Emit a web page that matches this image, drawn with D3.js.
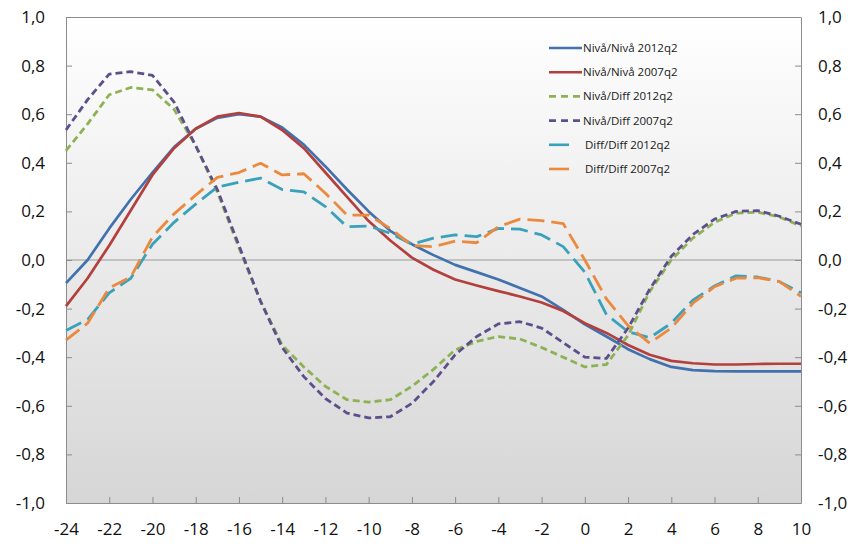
<!DOCTYPE html>
<html>
<head>
<meta charset="utf-8">
<script src="https://cdn.jsdelivr.net/npm/d3@7"></script>
<style>
  html, body { margin: 0; padding: 0; background: #ffffff; }
  svg { display: block; font-family: "Open Sans", "Noto Sans", sans-serif; }
</style>
</head>
<body>
<svg id="chart" width="859" height="549"></svg>
<script>
// Quarters relative to the reference quarter
const quarters = d3.range(-24, 11);

const nivaNiva2012 = [-0.095, 0.0, 0.13, 0.25, 0.36, 0.465, 0.54, 0.585, 0.60, 0.59, 0.545, 0.475, 0.385, 0.29, 0.20, 0.12, 0.065, 0.02, -0.02, -0.05, -0.08, -0.115, -0.15, -0.205, -0.265, -0.315, -0.367, -0.408, -0.44, -0.453, -0.457, -0.458, -0.458, -0.458, -0.458];
const nivaNiva2007 = [-0.19, -0.075, 0.06, 0.205, 0.35, 0.46, 0.54, 0.59, 0.605, 0.59, 0.535, 0.46, 0.36, 0.26, 0.16, 0.08, 0.01, -0.04, -0.08, -0.105, -0.128, -0.15, -0.175, -0.21, -0.26, -0.30, -0.35, -0.39, -0.415, -0.425, -0.43, -0.43, -0.428, -0.427, -0.427];
const nivaDiff2012 = [0.45, 0.56, 0.68, 0.71, 0.70, 0.62, 0.47, 0.28, 0.05, -0.17, -0.35, -0.44, -0.52, -0.575, -0.585, -0.575, -0.52, -0.45, -0.37, -0.335, -0.315, -0.325, -0.36, -0.40, -0.44, -0.43, -0.31, -0.13, 0.0, 0.09, 0.155, 0.193, 0.197, 0.177, 0.14];
const nivaDiff2007 = [0.535, 0.66, 0.765, 0.775, 0.76, 0.65, 0.47, 0.29, 0.06, -0.17, -0.36, -0.48, -0.57, -0.63, -0.65, -0.645, -0.59, -0.50, -0.39, -0.315, -0.263, -0.254, -0.28, -0.34, -0.40, -0.405, -0.28, -0.12, 0.015, 0.105, 0.168, 0.20, 0.203, 0.18, 0.147];
const diffDiff2012 = [-0.29, -0.245, -0.135, -0.075, 0.065, 0.155, 0.23, 0.30, 0.32, 0.337, 0.29, 0.28, 0.22, 0.137, 0.14, 0.11, 0.065, 0.09, 0.103, 0.096, 0.13, 0.127, 0.103, 0.055, -0.05, -0.225, -0.295, -0.32, -0.26, -0.165, -0.107, -0.065, -0.07, -0.089, -0.135];
const diffDiff2007 = [-0.33, -0.26, -0.115, -0.07, 0.095, 0.19, 0.267, 0.34, 0.36, 0.398, 0.35, 0.355, 0.275, 0.185, 0.185, 0.13, 0.06, 0.055, 0.078, 0.071, 0.137, 0.168, 0.162, 0.15, 0.0, -0.16, -0.27, -0.342, -0.28, -0.178, -0.11, -0.075, -0.073, -0.089, -0.15];

const seriesNames = ["Nivå/Nivå 2012q2", "Nivå/Nivå 2007q2", "Nivå/Diff 2012q2", "Nivå/Diff 2007q2", "Diff/Diff 2012q2", "Diff/Diff 2007q2"];
const xTicks = d3.range(-24, 11, 2);
const yTicks = d3.range(-1, 1.0001, 0.2);

const series = [
  { name: seriesNames[0], values: nivaNiva2012, color: "#4272ad", dash: null, legendDash: null },
  { name: seriesNames[1], values: nivaNiva2007, color: "#b3403d", dash: null, legendDash: null },
  { name: seriesNames[2], values: nivaDiff2012, color: "#8db255", dash: "7,4", legendDash: "7,5" },
  { name: seriesNames[3], values: nivaDiff2007, color: "#5e4f8c", dash: "7,4", legendDash: "7,5" },
  { name: seriesNames[4], values: diffDiff2012, color: "#3aa1ba", dash: "17,7", legendDash: "20,20" },
  { name: seriesNames[5], values: diffDiff2007, color: "#eb8a3e", dash: "17,7", legendDash: "20,20" }
];

const svg = d3.select("#chart");
const plot = { left: 66, right: 801, top: 17, bottom: 503 };

const x = d3.scaleLinear().domain([-24, 10]).range([plot.left, plot.right]);
const y = d3.scaleLinear().domain([-1, 1]).range([plot.bottom, plot.top]);

const loc = d3.formatLocale({ decimal: ",", thousands: " ", grouping: [3], currency: ["", ""], minus: "-" });
const fmtY = loc.format(".1f");
const fmtX = loc.format("d");

// Plot background: white at the top fading to grey at the bottom
const defs = svg.append("defs");
const grad = defs.append("linearGradient").attr("id", "bg").attr("x1", 0).attr("y1", 0).attr("x2", 0).attr("y2", 1);
grad.append("stop").attr("offset", "0%").attr("stop-color", "#ffffff");
grad.append("stop").attr("offset", "100%").attr("stop-color", "#d6d6d6");

svg.append("rect")
  .attr("x", plot.left).attr("y", plot.top)
  .attr("width", plot.right - plot.left).attr("height", plot.bottom - plot.top)
  .attr("fill", "url(#bg)");

// Zero line
svg.append("line")
  .attr("x1", plot.left).attr("x2", plot.right)
  .attr("y1", y(0)).attr("y2", y(0))
  .attr("stroke", "#9a9a9a").attr("stroke-width", 1);

// Axes with inward ticks
const axisStyle = g => {
  g.select(".domain").attr("stroke", "#8c8c8c");
  g.selectAll(".tick line").attr("stroke", "#8c8c8c");
  g.selectAll(".tick text").attr("fill", "#111111").style("font-size", "17px").style("font-family", "'Open Sans', sans-serif");
};

svg.append("g")
  .attr("transform", `translate(${plot.left},0)`)
  .call(d3.axisLeft(y).tickValues(yTicks).tickFormat(fmtY).tickSize(-6).tickSizeOuter(0).tickPadding(21))
  .call(axisStyle);

svg.append("g")
  .attr("transform", `translate(${plot.right},0)`)
  .call(d3.axisRight(y).tickValues(yTicks).tickFormat(fmtY).tickSize(-6).tickSizeOuter(0).tickPadding(17))
  .call(axisStyle);

svg.append("g")
  .attr("transform", `translate(0,${plot.bottom})`)
  .call(d3.axisBottom(x).tickValues(xTicks).tickFormat(fmtX).tickSize(-6).tickSizeOuter(0).tickPadding(20))
  .call(axisStyle);

// Top border
svg.append("line")
  .attr("x1", plot.left).attr("x2", plot.right)
  .attr("y1", plot.top + 0.5).attr("y2", plot.top + 0.5)
  .attr("stroke", "#8c8c8c");

// Series lines
const line = d3.line().x((d, i) => x(quarters[i])).y(d => y(d));

svg.append("g").selectAll("path")
  .data(series)
  .join("path")
  .attr("d", s => line(s.values))
  .attr("fill", "none")
  .attr("stroke", s => s.color)
  .attr("stroke-width", s => s.dash ? 2.8 : 2.7)
  .attr("stroke-dasharray", s => s.dash)
  .attr("stroke-linejoin", "round");

// Legend
const legend = svg.append("g").attr("transform", "translate(549,48)");
const rows = legend.selectAll("g")
  .data(series)
  .join("g")
  .attr("transform", (d, i) => `translate(0,${i * 24.2})`);

rows.append("line")
  .attr("x1", 0).attr("x2", (d, i) => i < 4 ? 33 : 20)
  .attr("y1", 0).attr("y2", 0)
  .attr("stroke", d => d.color)
  .attr("stroke-width", 2.6)
  .attr("stroke-dasharray", d => d.legendDash);

rows.append("text")
  .attr("x", (d, i) => i < 4 ? 34 : 36)
  .attr("y", 0)
  .attr("dy", "0.35em")
  .attr("fill", "#1a1a1a")
  .style("font-size", "11.5px")
  .text(d => d.name);
</script>
</body>
</html>
